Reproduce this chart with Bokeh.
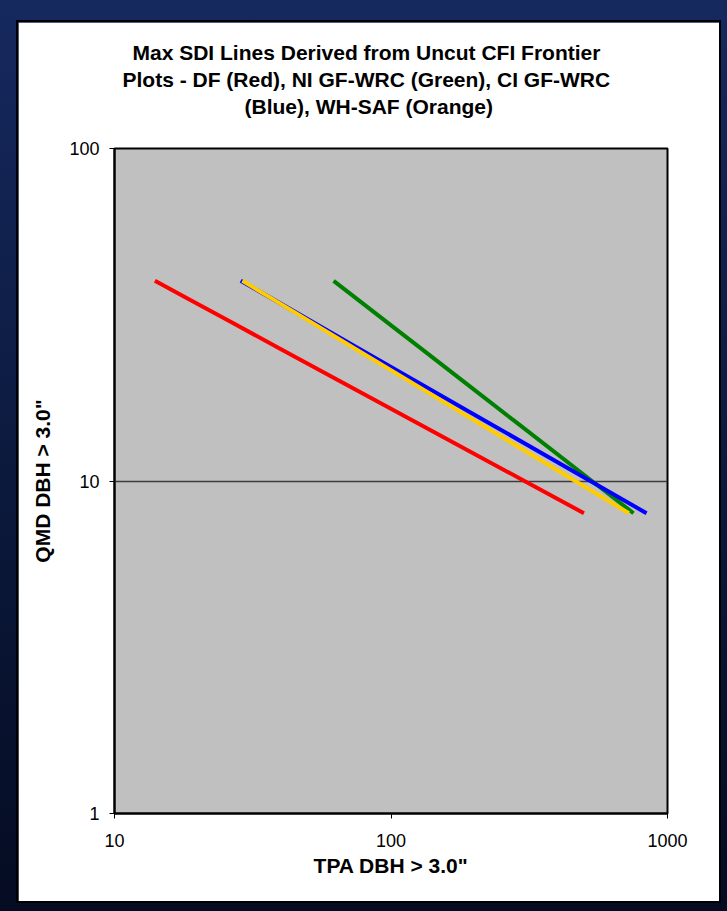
from bokeh.plotting import figure
from bokeh.layouts import column
from bokeh.models import FixedTicker, PrintfTickFormatter, Title
from bokeh.embed import file_html
from bokeh.resources import INLINE

# Quadratic mean diameter (in) along each max-SDI line
qmd = [40, 35, 30, 25, 20, 15, 10, 8]

# Trees per acre at each QMD
tpa_df = [14.0, 18.8, 26.5, 39.7, 65.2, 123.5, 303.8, 498.7]        # DF (red)
tpa_ni_gf = [62.0, 76.3, 96.9, 128.6, 181.8, 284.1, 533.0, 753.6]   # NI GF-WRC (green)
tpa_ci_gf = [28.6, 37.9, 52.3, 76.7, 122.6, 224.3, 525.7, 839.8]   # CI GF-WRC (blue)
tpa_wh = [29.0, 37.9, 51.6, 74.2, 116.0, 206.2, 464.0, 725.0]      # WH-SAF (orange)

x_ticks = [10, 100, 1000]
y_ticks = [1, 10, 100]

title_lines = [
    "Max SDI Lines Derived from Uncut CFI Frontier",
    "Plots - DF (Red), NI GF-WRC (Green), CI GF-WRC",
    "(Blue), WH-SAF (Orange)",
]
# left offsets (px from plot-area edge) that centre each title line over the panel
title_offsets = [18, 8, 130]

FONT = "Liberation Sans"

p = figure(
    width=701, height=879,
    x_axis_type="log", y_axis_type="log",
    x_range=(10, 1000), y_range=(1, 100),
    output_backend="svg", toolbar_location=None,
    min_border_left=96, min_border_right=52,
    min_border_top=126, min_border_bottom=88,
)
p.border_fill_color = "white"
p.background_fill_color = "#c0c0c0"
p.outline_line_color = "black"
p.outline_line_width = 2

# Series drawn in legend order so later lines sit on top
p.line(tpa_df, qmd, line_color="#ff0000", line_width=4)
p.line(tpa_ni_gf, qmd, line_color="#008000", line_width=4)
p.line(tpa_ci_gf, qmd, line_color="#0000ff", line_width=4)
p.line(tpa_wh, qmd, line_color="#ffcc00", line_width=4)

for ax, ticks in ((p.xaxis[0], x_ticks), (p.yaxis[0], y_ticks)):
    ax.ticker = FixedTicker(ticks=ticks, minor_ticks=[])
    ax.formatter = PrintfTickFormatter(format="%d")
    ax.axis_line_color = "black"
    ax.axis_line_width = 2
    ax.major_tick_line_color = "black"
    ax.major_tick_out = 5
    ax.major_tick_in = 0
    ax.minor_tick_out = 0
    ax.minor_tick_in = 0
    ax.major_label_text_font = FONT
    ax.major_label_text_font_size = "18px"
    ax.major_label_text_color = "black"
    ax.axis_label_text_font = FONT
    ax.axis_label_text_font_size = "21px"
    ax.axis_label_text_font_style = "bold"
    ax.axis_label_text_color = "black"

p.xaxis.axis_label = 'TPA DBH > 3.0"'
p.yaxis.axis_label = 'QMD DBH > 3.0"'
p.xaxis.major_label_standoff = 15
p.xaxis.axis_label_standoff = 4
p.yaxis.major_label_standoff = 10
p.yaxis.axis_label_standoff = 12

p.xgrid.visible = False
p.ygrid.ticker = FixedTicker(ticks=y_ticks)
p.ygrid.grid_line_color = "#3c3c3c"
p.ygrid.grid_line_width = 1.5

title_style = dict(
    text_font=FONT, text_font_size="21px", text_font_style="bold",
    text_color="black",
)

# blank band between the plot area and the title block
p.add_layout(Title(text=" ", standoff=5, **title_style), "above")

# Three-line chart title; panels added later stack further from the plot
for line, off in reversed(list(zip(title_lines, title_offsets))):
    p.add_layout(Title(
        text=line, align="left", offset=off, standoff=1.5, **title_style,
    ), "above")

page = column(
    p,
    styles={
        "background": "linear-gradient(180deg, #16295f 0%, #0a1738 60%, #050c22 100%)",
        "padding": "22px 8px 10px 18px",
    },
)
p.styles = {"box-shadow": "0 0 0 2px #000000"}

with open("out.html", "w") as f:
    f.write(file_html(page, INLINE))
